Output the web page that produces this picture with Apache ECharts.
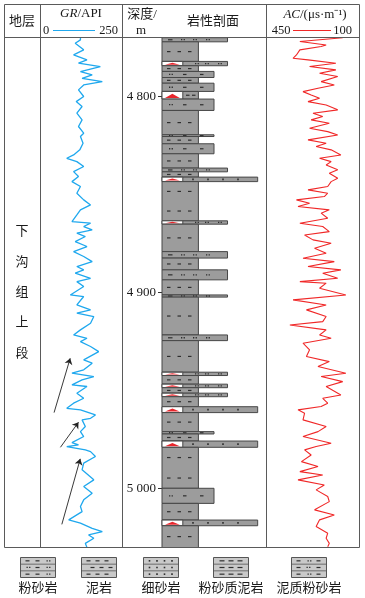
<!DOCTYPE html>
<html><head><meta charset="utf-8">
<script src="https://cdn.jsdelivr.net/npm/echarts@6/dist/echarts.min.js"></script>
<style>html,body{margin:0;padding:0;background:#fff}#c{width:365px;height:598px}</style>
</head><body><div id="c"></div>
<script>
// ---------------- data ----------------
const depthMin = 4770, depthMax = 5030;
const depthTicks = [4800, 4900, 5000];

const grDepth = [4770, 4771.1, 4772.8, 4776.2, 4778.8, 4781.3, 4783.0, 4784.7, 4787.3, 4789.0,
  4790.7, 4792.4, 4794.1, 4796.6, 4800.0, 4802.6, 4805.1, 4808.5, 4811.9, 4815.3,
  4818.7, 4820.4, 4823.8, 4827.2, 4829.8, 4830.6, 4831.5, 4833.2, 4835.7, 4838.3,
  4840.8, 4843.4, 4845.9, 4849.3, 4852.7, 4855.3, 4857.8, 4860.4, 4863.8, 4864.6,
  4866.3, 4868.0, 4869.7, 4871.4, 4874.0, 4876.5, 4879.1, 4881.6, 4884.2, 4886.7,
  4888.4, 4890.1, 4892.7, 4894.4, 4896.9, 4901.2, 4902.0, 4906.3, 4908.8, 4910.5,
  4912.2, 4915.6, 4919.0, 4921.6, 4923.3, 4925.0, 4927.5, 4930.1, 4934.3, 4936.0,
  4939.4, 4941.1, 4942.8, 4944.5, 4947.1, 4947.9, 4951.3, 4953.9, 4956.4, 4959.0,
  4959.8, 4962.4, 4964.1, 4964.9, 4968.3, 4970.9, 4973.4, 4976.5, 4977.7, 4978.5,
  4980.2, 4981.1, 4983.6, 4987.0, 4990.4, 4995.5, 4998.9, 5002.3, 5005.7, 5009.1,
  5011.7, 5015.9, 5017.6, 5020.2, 5021.9, 5023.6, 5025.3, 5027.9, 5030];
const grValue = [121, 121, 105, 131, 100, 141, 115, 182, 121, 157,
  126, 188, 131, 115, 131, 108, 126, 110, 126, 115,
  131, 121, 129, 119, 100, 98, 79, 110, 131, 100,
  115, 95, 121, 110, 131, 152, 121, 110, 95, 152,
  131, 157, 110, 136, 105, 141, 100, 131, 157, 110,
  131, 105, 152, 110, 131, 90, 131, 110, 152, 110,
  162, 152, 121, 100, 141, 121, 152, 177, 131, 157,
  131, 95, 162, 126, 95, 141, 110, 131, 100, 79,
  121, 167, 152, 126, 136, 121, 131, 95, 115, 79,
  136, 152, 167, 131, 126, 162, 131, 157, 131, 121,
  126, 85, 121, 157, 188, 146, 162, 136, 141];

const acDepth = [4770, 4771.9, 4773.7, 4774.5, 4776.2, 4778.8, 4780.5, 4781.3, 4783.0, 4784.7,
  4786.4, 4788.1, 4789.8, 4792.4, 4794.1, 4795.8, 4797.5, 4799.2, 4800.9, 4802.6,
  4804.3, 4806.8, 4808.5, 4810.2, 4811.9, 4813.6, 4816.2, 4817.9, 4819.6, 4822.1,
  4823.8, 4825.5, 4827.2, 4829.8, 4831.5, 4833.2, 4834.9, 4837.4, 4839.1, 4841.7,
  4843.4, 4845.9, 4847.6, 4849.3, 4851.0, 4852.7, 4854.4, 4856.1, 4857.8, 4859.5,
  4862.1, 4864.6, 4866.3, 4868.9, 4870.6, 4873.1, 4874.8, 4877.4, 4879.9, 4882.5,
  4884.2, 4886.7, 4888.4, 4890.1, 4892.7, 4894.4, 4895.2, 4897.8, 4901.2, 4903.7,
  4906.3, 4908.8, 4912.2, 4914.8, 4916.5, 4919.0, 4921.6, 4923.3, 4925.8, 4929.2,
  4932.6, 4935.2, 4937.7, 4941.1, 4942.8, 4945.4, 4947.9, 4952.2, 4953.9, 4956.4,
  4958.1, 4959.8, 4961.5, 4964.9, 4968.3, 4970.9, 4973.4, 4976.8, 4978.5, 4980.2,
  4982.8, 4986.2, 4988.7, 4991.3, 4993.0, 4995.5, 4998.1, 5000.6, 5004.0, 5006.6,
  5010.8, 5013.4, 5015.9, 5019.3, 5022.7, 5025.3, 5027.9, 5029.6];
const acValue = [162, 325, 225, 244, 325, 338, 351, 294, 188, 288,
  188, 250, 181, 244, 194, 256, 313, 282, 250, 294,
  225, 181, 275, 238, 282, 213, 288, 219, 181, 294,
  225, 263, 206, 169, 250, 206, 225, 181, 213, 181,
  206, 219, 294, 219, 232, 338, 288, 332, 213, 244,
  219, 325, 238, 213, 307, 275, 206, 269, 225, 313,
  194, 294, 169, 238, 181, 325, 225, 250, 150, 351,
  225, 300, 225, 238, 363, 225, 250, 206, 313, 288,
  300, 213, 256, 150, 244, 162, 225, 169, 238, 219,
  244, 332, 307, 313, 225, 256, 313, 206, 263, 307,
  282, 319, 256, 325, 238, 332, 232, 263, 219, 213,
  269, 194, 250, 263, 219, 225, 213, 219];

const lithoNames = ['粉砂岩', '泥岩', '细砂岩', '粉砂质泥岩', '泥质粉砂岩'];
const lithoTop = [4770, 4772.1, 4782.1, 4784.3, 4787.2, 4790.3, 4793.2, 4797.4, 4801.3, 4807.1,
  4819.5, 4820.4, 4824.1, 4829.2, 4836.5, 4838.4, 4841.1, 4843.4, 4863.4, 4865.1,
  4879.1, 4882.4, 4888.4, 4893.5, 4901.2, 4902.3, 4921.6, 4924.5, 4940.6, 4942.3,
  4946.7, 4948.5, 4951.3, 4953.1, 4958.2, 4961.2, 4970.9, 4972.1, 4975.7, 4978.9,
  4999.8, 5007.5, 5016.0, 5018.9];
const lithoBase = [4772.1, 4782.1, 4784.3, 4787.2, 4790.3, 4793.2, 4797.4, 4801.3, 4807.1, 4819.5,
  4820.4, 4824.1, 4829.2, 4836.5, 4838.4, 4841.1, 4843.4, 4863.4, 4865.1, 4879.1,
  4882.4, 4888.4, 4893.5, 4901.2, 4902.3, 4921.6, 4924.5, 4940.6, 4942.3, 4946.7,
  4948.5, 4951.3, 4953.1, 4958.2, 4961.2, 4970.9, 4972.1, 4975.7, 4978.9, 4999.8,
  5007.5, 5016.0, 5018.9, 5030];
const lithoType = ['粉砂岩', '泥岩', '粉砂岩', '泥岩', '泥质粉砂岩', '泥岩', '泥质粉砂岩', '泥岩', '泥质粉砂岩', '泥岩',
  '泥质粉砂岩', '泥岩', '泥质粉砂岩', '泥岩', '粉砂岩', '泥岩', '细砂岩', '泥岩', '粉砂岩', '泥岩',
  '粉砂岩', '泥岩', '粉砂岩', '泥岩', '粉砂岩', '泥岩', '粉砂岩', '泥岩', '粉砂岩', '泥岩',
  '粉砂岩', '泥岩', '粉砂岩', '泥岩', '细砂岩', '泥岩', '泥质粉砂岩', '泥岩', '细砂岩', '泥岩',
  '泥质粉砂岩', '泥岩', '细砂岩', '泥岩'];
const lithoScour = [0, 0, 1, 0, 0, 0, 0, 1, 0, 0,
  0, 0, 0, 0, 0, 0, 1, 0, 1, 0,
  0, 0, 0, 0, 0, 0, 0, 0, 1, 0,
  1, 0, 1, 0, 1, 0, 0, 0, 1, 0,
  0, 0, 1, 0];

const strataChars = ['下', '沟', '组', '上', '段'];
const arrowStartGR = [40.1, 59.6, 63.9];
const arrowStartDepth = [4961.2, 4978.9, 5018.2];
const arrowEndGR = [89.5, 115.1, 120.4];
const arrowEndDepth = [4933.5, 4966.1, 4984.8];

// ---------------- styling / rendering ----------------
const FONT = "'Liberation Serif','Noto Sans CJK SC',serif";
const grainWidth = {'泥岩': 35, '粉砂质泥岩': 45, '泥质粉砂岩': 50, '粉砂岩': 63, '细砂岩': 92};
const SCOUR_W = 20;
const GRID_TOP = 37.7, GRID_H = 509.8;

function dash(x, y, w) { return {type: 'rect', shape: {x: x, y: y - 0.6, width: w || 3.5, height: 1.2}, style: {fill: '#2e2e2e'}}; }
function dots(x, y) { return [{type: 'rect', shape: {x: x, y: y - 0.7, width: 1.3, height: 1.3}, style: {fill: '#2e2e2e'}},
  {type: 'rect', shape: {x: x + 2.6, y: y - 0.7, width: 1.3, height: 1.3}, style: {fill: '#2e2e2e'}}]; }
function dot(x, y) { return {type: 'rect', shape: {x: x - 0.8, y: y - 0.8, width: 1.6, height: 1.6}, style: {fill: '#2e2e2e'}}; }

function patternRow(name, x0, yy, scour, ch) {
  if (name === '泥岩') {
    const offs = scour ? [24, 30] : [5, 15.5, 26];
    offs.forEach(o => ch.push(dash(x0 + o, yy)));
  } else if (name === '粉砂岩') {
    if (scour) { [33, 43, 56].forEach(o => ch.push(...dots(x0 + o, yy))); }
    else { ch.push(dash(x0 + 6, yy, 4.5)); [19, 31, 44].forEach(o => ch.push(...dots(x0 + o, yy))); }
  } else if (name === '泥质粉砂岩' || name === '粉砂质泥岩') {
    if (!scour) ch.push(...dots(x0 + 7, yy));
    ch.push(dash(x0 + 21, yy)); ch.push(dash(x0 + 38, yy));
  } else if (name === '细砂岩') {
    [31, 46, 61, 76].forEach(o => ch.push(dot(x0 + o, yy)));
  }
}

function renderLitho(params, api) {
  const t0 = api.value(0), t1 = api.value(1);
  const name = lithoNames[api.value(2)];
  const scour = api.value(3);
  const a = api.coord([0, t0]), b = api.coord([grainWidth[name], t1]);
  const x0 = a[0], y0 = a[1], x1 = b[0], y1 = b[1];
  const h = y1 - y0, w = x1 - x0;
  const ch = [];
  ch.push({type: 'rect', shape: {x: x0, y: y0, width: w, height: h}, style: {fill: '#9c9c9c', stroke: '#474747', lineWidth: 1}});
  if (scour) {
    const xs = api.coord([SCOUR_W, t0])[0];
    ch.push({type: 'rect', shape: {x: x0, y: y0, width: xs - x0, height: h}, style: {fill: '#ffffff', stroke: '#474747', lineWidth: 1}});
    const ty = y0 + Math.max(0.8, h * 0.3);
    ch.push({type: 'polygon', shape: {points: [[x0 + 3, y1 - 1], [(x0 + xs) / 2, ty], [xs - 3, y1 - 1]]}, style: {fill: '#e8262c'}});
  }
  const n = Math.max(1, Math.round(h / (name === '泥岩' ? 26 : 18)));
  for (let i = 0; i < n; i++) {
    const yy = y0 + h * (i + 0.5) / n;
    patternRow(name, x0, yy, scour, ch);
  }
  return {type: 'group', children: ch};
}

const grData = grDepth.map((d, i) => [grValue[i], d]).filter(p => p[0] != null);
const acData = acDepth.map((d, i) => [acValue[i], d]).filter(p => p[0] != null);
const lithoData = lithoTop.map((t, i) => [t, lithoBase[i], lithoNames.indexOf(lithoType[i]), lithoScour[i]]);
const arrowData = arrowStartGR.map((g, i) => [{coord: [g, arrowStartDepth[i]]}, {coord: [arrowEndGR[i], arrowEndDepth[i]]}]);

// ---------------- frame / header / legend graphics ----------------
const G = [];
const LC = '#5a5a5a';
G.push({type: 'rect', z: 100, shape: {x: 4.5, y: 4.5, width: 355, height: 543}, style: {fill: 'none', stroke: LC, lineWidth: 1}});
G.push({type: 'line', z: 100, shape: {x1: 4.5, y1: 37.5, x2: 359.5, y2: 37.5}, style: {stroke: LC, lineWidth: 1}});
[40.5, 122.5, 266.5].forEach(x => G.push({type: 'line', z: 100, shape: {x1: x, y1: 4.5, x2: x, y2: 547.5}, style: {stroke: LC, lineWidth: 1}}));

function txt(text, x, y, extra) {
  return Object.assign({type: 'text', z: 101, x: x, y: y,
    style: Object.assign({text: text, font: '13px ' + FONT, fill: '#1a1a1a', align: 'center', verticalAlign: 'middle'}, extra || {})});
}
G.push(txt('地层', 22, 21.5));
G.push({type: 'text', z: 101, x: 81, y: 14, style: {text: '{i|GR}/API', font: '13px ' + FONT, fill: '#1a1a1a', align: 'center', verticalAlign: 'middle',
  rich: {i: {fontStyle: 'italic', fontFamily: "'Liberation Serif',serif", fontSize: 13}}}});
G.push(txt('0', 46, 30.5, {font: '12.5px ' + FONT}));
G.push({type: 'line', z: 101, shape: {x1: 53, y1: 30.5, x2: 95, y2: 30.5}, style: {stroke: '#1fa8ee', lineWidth: 1.2}});
G.push(txt('250', 108.5, 30.5, {font: '12.5px ' + FONT}));
G.push(txt('深度/', 142, 15));
G.push(txt('m', 141, 31));
G.push(txt('岩性剖面', 213, 22));
G.push({type: 'text', z: 101, x: 315, y: 15, style: {text: '{i|AC}/(μs·m⁻¹)', font: '13px ' + FONT, fill: '#1a1a1a', align: 'center', verticalAlign: 'middle',
  rich: {i: {fontStyle: 'italic', fontFamily: "'Liberation Serif',serif", fontSize: 13}}}});
G.push(txt('450', 281, 30.5, {font: '12.5px ' + FONT}));
G.push({type: 'line', z: 101, shape: {x1: 293, y1: 30.5, x2: 331, y2: 30.5}, style: {stroke: '#f02828', lineWidth: 1.2}});
G.push(txt('100', 342.5, 30.5, {font: '12.5px ' + FONT}));
strataChars.forEach((c, i) => G.push(txt(c, 22, 232 + i * 30.3)));

// legend boxes
const legendX = [20.5, 81.5, 143.5, 213.5, 291.5];
function legendBox(name, x) {
  const y = 557.5, w = 35, h = 20, ch = [];
  ch.push({type: 'rect', shape: {x: x, y: y, width: w, height: h}, style: {fill: '#c9c9c9', stroke: '#555', lineWidth: 1}});
  ch.push({type: 'line', shape: {x1: x, y1: y + h / 3, x2: x + w, y2: y + h / 3}, style: {stroke: '#555', lineWidth: 0.8}});
  ch.push({type: 'line', shape: {x1: x, y1: y + 2 * h / 3, x2: x + w, y2: y + 2 * h / 3}, style: {stroke: '#555', lineWidth: 0.8}});
  for (let r = 0; r < 3; r++) {
    const yy = y + h * (r + 0.5) / 3;
    if (name === '泥岩') { (r % 2 ? [9, 18, 27] : [5, 14, 23]).forEach(o => ch.push(dash(x + o, yy, 4))); }
    else if (name === '细砂岩') { [6, 13.5, 21, 28.5].forEach(o => ch.push(dot(x + o, yy))); }
    else if (name === '粉砂岩') {
      if (r % 2) { ch.push(...dots(x + 6, yy)); ch.push(dash(x + 15, yy, 4)); ch.push(...dots(x + 26, yy)); }
      else { ch.push(dash(x + 5, yy, 4)); ch.push(dash(x + 15, yy, 4)); ch.push(...dots(x + 26, yy)); }
    } else if (name === '粉砂质泥岩') { [6, 15, 24].forEach(o => ch.push(dash(x + o, yy, 5))); }
    else if (name === '泥质粉砂岩') {
      if (r % 2) { ch.push(dash(x + 5, yy, 4)); ch.push(...dots(x + 15, yy)); ch.push(dash(x + 25, yy, 4)); }
      else { ch.push(dash(x + 5, yy, 4)); ch.push(...dots(x + 16, yy)); ch.push(dash(x + 25, yy, 4)); }
    }
  }
  ch.push(txt(name, x + w / 2, 588.5, {font: '13px ' + FONT}));
  return {type: 'group', children: ch};
}
lithoNames.forEach((n, i) => G.push(legendBox(n, legendX[i])));

// ---------------- chart ----------------
const chart = echarts.init(document.getElementById('c'), null, {renderer: 'canvas'});
const yBase = {type: 'value', min: depthMin, max: depthMax, inverse: true, splitLine: {show: false}};
chart.setOption({
  animation: false,
  backgroundColor: '#fff',
  grid: [
    {left: 41, top: GRID_TOP, width: 81.5, height: GRID_H, outerBoundsMode: 'none'},
    {left: 162, top: GRID_TOP, width: 104, height: GRID_H, outerBoundsMode: 'none'},
    {left: 267, top: GRID_TOP, width: 92, height: GRID_H, outerBoundsMode: 'none'}
  ],
  xAxis: [
    {gridIndex: 0, type: 'value', min: 0, max: 250, show: false},
    {gridIndex: 1, type: 'value', min: 0, max: 100, show: false},
    {gridIndex: 2, type: 'value', min: 100, max: 450, inverse: true, show: false}
  ],
  yAxis: [
    Object.assign({gridIndex: 0, show: false}, yBase),
    Object.assign({gridIndex: 1, show: true, axisLine: {show: false},
      axisTick: {show: true, customValues: depthTicks, length: 4, lineStyle: {color: '#333', width: 1}},
      axisLabel: {show: true, customValues: depthTicks, margin: 6, fontSize: 13, fontFamily: FONT, color: '#1a1a1a',
        formatter: v => { const s = String(v); return s.slice(0, s.length - 3) + ' ' + s.slice(-3); }}}, yBase),
    Object.assign({gridIndex: 2, show: false}, yBase)
  ],
  series: [
    {type: 'line', xAxisIndex: 0, yAxisIndex: 0, data: grData, showSymbol: false, symbol: 'none',
      lineStyle: {color: '#1fa8ee', width: 1.3}, silent: true,
      markLine: {silent: true, symbol: ['none', 'arrow'], symbolSize: 6, label: {show: false},
        lineStyle: {color: '#222', width: 0.9, type: 'solid'}, emphasis: {disabled: true}, data: arrowData}},
    {type: 'custom', xAxisIndex: 1, yAxisIndex: 1, data: lithoData, renderItem: renderLitho, silent: true},
    {type: 'line', xAxisIndex: 2, yAxisIndex: 2, data: acData, showSymbol: false, symbol: 'none',
      lineStyle: {color: '#f02828', width: 1.1}, silent: true}
  ],
  graphic: G
});
</script>
</body></html>
